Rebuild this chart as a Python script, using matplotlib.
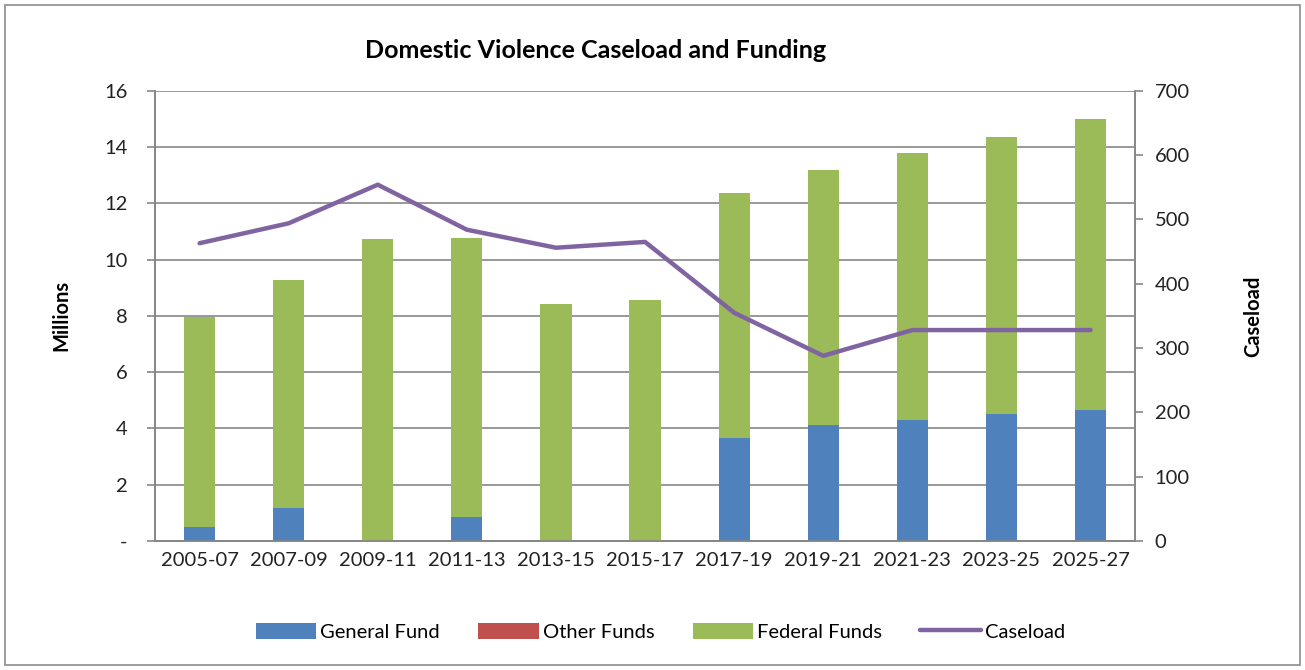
import numpy as np
import matplotlib.pyplot as plt
import matplotlib.patches as mpatches
from matplotlib.ticker import FuncFormatter

plt.rcParams['font.family'] = ['Lato', 'DejaVu Sans']

# Data
biennia = ['2005-07', '2007-09', '2009-11', '2011-13', '2013-15', '2015-17',
           '2017-19', '2019-21', '2021-23', '2023-25', '2025-27']
general_fund = [0.50, 1.17, 0.0, 0.85, 0.0, 0.0, 3.66, 4.12, 4.30, 4.50, 4.66]
other_funds = [0.0] * 11
total_funds = [7.95, 9.28, 10.74, 10.77, 8.43, 8.57, 12.37, 13.19, 13.80, 14.36, 15.00]
federal_funds = [t - g - o for t, g, o in zip(total_funds, general_fund, other_funds)]
caseload = [463, 494, 554, 484, 456, 465, 355, 288, 328, 328, 328]

BLUE = '#4F81BD'
RED = '#C0504D'
GREEN = '#9BBB59'
PURPLE = '#8064A2'
GRID = '#868686'

fig = plt.figure(figsize=(13.05, 6.7), dpi=100, facecolor='white')
ax = fig.add_axes([0.1188, 0.1925, 0.751, 0.672])
ax2 = ax.twinx()

x = np.arange(len(biennia))
w = 0.35
ax.bar(x, general_fund, w, color=BLUE, label='General Fund', zorder=3)
ax.bar(x, other_funds, w, bottom=general_fund, color=RED, label='Other Funds', zorder=3)
bottoms = [g + o for g, o in zip(general_fund, other_funds)]
ax.bar(x, federal_funds, w, bottom=bottoms, color=GREEN, label='Federal Funds', zorder=3)

ax2.plot(x, caseload, color=PURPLE, linewidth=3.2, label='Caseload',
         solid_capstyle='round', solid_joinstyle='round')

ax.set_xlim(-0.5, len(biennia) - 0.5)
ax.set_ylim(0, 16)
ax.set_yticks(np.arange(0, 17, 2))
ax.yaxis.set_major_formatter(FuncFormatter(lambda v, p: '-' if v == 0 else f'{v:.0f}'))
ax2.set_ylim(0, 700)
ax2.set_yticks(np.arange(0, 701, 100))

ax.set_xticks(x)
ax.set_xticklabels(biennia)
ax.grid(axis='y', color=GRID, linewidth=1.2, zorder=0)
ax.set_axisbelow(True)

fs = 14.5
for a in (ax, ax2):
    a.spines['top'].set_visible(False)
    for s in ('left', 'right', 'bottom'):
        a.spines[s].set_color(GRID)
        a.spines[s].set_linewidth(1.2)
    a.tick_params(axis='y', colors=GRID, labelcolor='#222222', labelsize=fs,
                  length=6, width=1.2, direction='out')
ax.tick_params(axis='x', length=0, labelsize=fs, labelcolor='#222222', pad=8)
ax.tick_params(axis='y', pad=14)
ax2.tick_params(axis='y', pad=8)

ax.set_ylabel('Millions', fontsize=fs, fontweight='bold')
ax.yaxis.set_label_coords(-0.085, 0.5)
ax2.set_ylabel('Caseload', fontsize=fs, fontweight='bold')
ax2.yaxis.set_label_coords(1.11, 0.5)

fig.text(0.456, 0.925, 'Domestic Violence Caseload and Funding', fontsize=18,
         fontweight='bold', ha='center', va='center')

h1, l1 = ax.get_legend_handles_labels()
h2, l2 = ax2.get_legend_handles_labels()
fig.legend(h1 + h2, l1 + l2, loc='center', bbox_to_anchor=(0.506, 0.057), ncol=4,
           frameon=False, fontsize=fs, handlelength=3.0, handleheight=0.9,
           columnspacing=1.9, handletextpad=0.2)

border = mpatches.Rectangle((0.004, 0.007), 0.992, 0.986, transform=fig.transFigure,
                            fill=False, edgecolor='#8c8c8c', linewidth=1.2)
fig.patches.append(border)

fig.savefig('out.png', dpi=100, facecolor='white')
